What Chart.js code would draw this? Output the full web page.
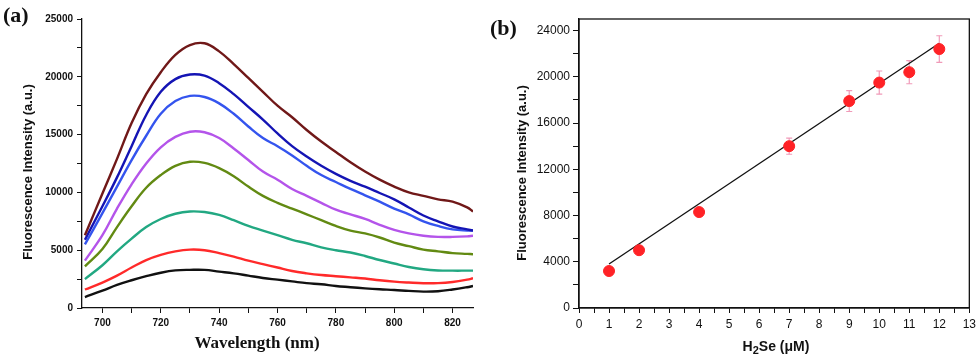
<!DOCTYPE html>
<html>
<head>
<meta charset="utf-8">
<script src="https://cdn.jsdelivr.net/npm/chart.js@4.4.0/dist/chart.umd.min.js"></script>
<style>
  body { margin: 0; background: #fff; width: 980px; height: 361px; position: relative; overflow: hidden; }
  .box { position: absolute; top: 0; width: 490px; height: 361px; }
  .lbl { position: absolute; white-space: nowrap; color: #111; }
  .panel { font: bold 22px "Liberation Serif", "Times New Roman", serif; }
  .ytitle { font: bold 13px "Liberation Sans", Arial, sans-serif; transform: translate(-50%, -50%) rotate(-90deg); }
  .xtitle { transform: translate(-50%, -50%); }
</style>
</head>
<body>
<div class="box" style="left:0"><canvas id="chartA"></canvas></div>
<div class="box" style="left:490px"><canvas id="chartB"></canvas></div>

<div class="lbl panel" style="left:3px; top:2px">(a)</div>
<div class="lbl panel" style="left:490px; top:15px">(b)</div>
<div class="lbl ytitle" style="left:27px; top:172px">Fluorescence Intensity (a.u.)</div>
<div class="lbl ytitle" style="left:521px; top:173px">Fluorescence Intensity (a.u.)</div>
<div class="lbl xtitle" style="left:257px; top:343px; font: bold 17px 'Liberation Serif', serif">Wavelength (nm)</div>
<div class="lbl xtitle" style="left:776px; top:347px; font: bold 14px 'Liberation Sans', Arial, sans-serif">H<sub style="font-size:11px">2</sub>Se (&mu;M)</div>

<script>
// (a) emission spectra
const wavelength = [694, 700, 705, 710, 715, 720, 725, 730, 735, 740, 745, 750, 755, 760, 765, 770, 775, 780, 785, 790, 795, 800, 805, 810, 815, 820, 825, 827];
const spec12 = [6300, 9900, 12900, 16000, 18500, 20400, 21900, 22750, 22900, 22200, 21100, 19900, 18700, 17500, 16500, 15400, 14400, 13500, 12600, 11800, 11100, 10500, 10000, 9700, 9400, 9200, 8700, 8350];
const spec11 = [5900, 8800, 11300, 14000, 16700, 18700, 19800, 20200, 20100, 19450, 18500, 17400, 16300, 15100, 14000, 13100, 12300, 11600, 11000, 10500, 9950, 9400, 8700, 8000, 7500, 7050, 6800, 6700];
const spec10 = [5500, 8200, 10500, 12800, 14900, 16800, 17900, 18350, 18250, 17700, 16800, 15700, 14700, 14000, 13200, 12300, 11500, 10900, 10300, 9750, 9200, 8600, 8100, 7500, 7100, 6800, 6700, 6700];
const spec9 = [4100, 6300, 8600, 10700, 12500, 13900, 14800, 15250, 15200, 14700, 13800, 12800, 11800, 11100, 10300, 9700, 9100, 8500, 8100, 7700, 7200, 6750, 6450, 6250, 6150, 6150, 6200, 6250];
const spec7 = [3600, 5100, 7000, 8800, 10400, 11500, 12300, 12650, 12550, 12100, 11400, 10500, 9700, 9100, 8600, 8100, 7600, 7100, 6700, 6450, 6100, 5650, 5350, 5050, 4900, 4750, 4680, 4650];
const spec4 = [2500, 3700, 4900, 6000, 7000, 7700, 8150, 8350, 8300, 8050, 7600, 7100, 6700, 6300, 5900, 5600, 5250, 5000, 4800, 4500, 4150, 3850, 3550, 3350, 3250, 3230, 3230, 3230];
const spec2 = [1600, 2200, 2800, 3500, 4150, 4600, 4900, 5050, 5000, 4750, 4450, 4100, 3800, 3500, 3200, 3000, 2850, 2750, 2650, 2550, 2400, 2280, 2200, 2140, 2150, 2250, 2450, 2570];
const spec1 = [950, 1500, 2000, 2400, 2750, 3050, 3250, 3300, 3300, 3150, 3000, 2800, 2600, 2450, 2300, 2150, 2050, 1900, 1800, 1700, 1620, 1560, 1480, 1420, 1450, 1600, 1800, 1900];
const xTicksA = [700, 710, 720, 730, 740, 750, 760, 770, 780, 790, 800, 810, 820];
const yTicksA = [0, 2500, 5000, 7500, 10000, 12500, 15000, 17500, 20000, 22500, 25000];

// (b) calibration
const h2se = [1, 2, 4, 7, 9, 10, 11, 12];
const intensity = [3200, 5000, 8300, 14000, 17900, 19500, 20400, 22400];
const errBar = [200, 250, 350, 700, 900, 1000, 1000, 1150];
const fitX = [1, 12];
const fitY = [3800, 22900];
const xTicksB = [0, 0.5, 1, 1.5, 2, 2.5, 3, 3.5, 4, 4.5, 5, 5.5, 6, 6.5, 7, 7.5, 8, 8.5, 9, 9.5, 10, 10.5, 11, 11.5, 12, 12.5, 13];
const yTicksB = [0, 2000, 4000, 6000, 8000, 10000, 12000, 14000, 16000, 18000, 20000, 22000, 24000];

const black = '#111';
const tickFontA = { family: 'Liberation Sans, Arial, sans-serif', size: 10, weight: 'bold' };
const tickFontB = { family: 'Liberation Sans, Arial, sans-serif', size: 12 };

function toXY(xs, ys) {
  return xs.map((x, i) => ({ x: x, y: ys[i] }));
}
function fixedTicks(list) {
  return s => { s.ticks = list.map(v => ({ value: v })); };
}

const spectra = [
  [spec12, '#701818'],
  [spec11, '#1414b4'],
  [spec10, '#3454ee'],
  [spec9, '#b454ea'],
  [spec7, '#628a12'],
  [spec4, '#22a882'],
  [spec2, '#ff2a2a'],
  [spec1, '#111111']
];

new Chart(document.getElementById('chartA'), {
  type: 'line',
  data: {
    datasets: spectra.map(s => ({
      data: toXY(wavelength, s[0]),
      borderColor: s[1],
      borderWidth: 2.4,
      pointRadius: 0,
      tension: 0.4
    }))
  },
  options: {
    responsive: true,
    maintainAspectRatio: false,
    animation: false,
    layout: { padding: { left: 0, top: 19, right: 17, bottom: 0 } },
    plugins: { legend: { display: false }, tooltip: { enabled: false } },
    scales: {
      x: {
        type: 'linear',
        min: 693,
        max: 827,
        afterBuildTicks: fixedTicks(xTicksA),
        afterFit: s => { s.height = 53; },
        border: { color: black, width: 1.3 },
        grid: { drawOnChartArea: false, tickLength: 5, tickColor: black, tickWidth: 1 },
        ticks: {
          padding: 4,
          color: black,
          font: tickFontA,
          autoSkip: false,
          maxRotation: 0,
          callback: v => (v % 20 === 0 ? v : '')
        }
      },
      y: {
        min: 0,
        max: 25000,
        afterBuildTicks: fixedTicks(yTicksA),
        afterFit: s => { s.width = 82; },
        border: { color: black, width: 1.3 },
        grid: { drawOnChartArea: false, tickLength: 5, tickColor: black, tickWidth: 1 },
        ticks: {
          padding: 4,
          color: black,
          font: tickFontA,
          autoSkip: false,
          callback: v => (v % 5000 === 0 ? v : '')
        }
      }
    }
  }
});

// error bars as short vertical segments with capped ends
const errData = [];
h2se.forEach((x, i) => {
  errData.push({ x: x, y: intensity[i] - errBar[i] });
  errData.push({ x: x, y: intensity[i] + errBar[i] });
  errData.push({ x: x, y: null });
});

const frameBox = {
  id: 'frameBox',
  afterDraw(chart) {
    const a = chart.chartArea;
    const ctx = chart.ctx;
    ctx.save();
    ctx.strokeStyle = black;
    ctx.lineWidth = 1.3;
    ctx.strokeRect(a.left, a.top, a.right - a.left, a.bottom - a.top);
    ctx.restore();
  }
};

new Chart(document.getElementById('chartB'), {
  type: 'scatter',
  data: {
    datasets: [
      {
        data: toXY(h2se, intensity),
        backgroundColor: '#ff2226',
        borderColor: '#ff2226',
        pointRadius: 5.5,
        pointHoverRadius: 5.5
      },
      {
        data: toXY(fitX, fitY),
        showLine: true,
        borderColor: black,
        borderWidth: 1.3,
        pointRadius: 0
      },
      {
        data: errData,
        showLine: true,
        spanGaps: false,
        borderColor: '#f09ab8',
        borderWidth: 1.2,
        pointStyle: 'line',
        pointRadius: 3,
        pointBorderColor: '#f09ab8',
        pointBorderWidth: 1.2
      }
    ]
  },
  options: {
    responsive: true,
    maintainAspectRatio: false,
    animation: false,
    layout: { padding: { left: 0, top: 19, right: 10, bottom: 0 } },
    plugins: { legend: { display: false }, tooltip: { enabled: false } },
    scales: {
      x: {
        type: 'linear',
        min: 0,
        max: 13,
        afterBuildTicks: fixedTicks(xTicksB),
        afterFit: s => { s.height = 53; },
        border: { color: black, width: 1.3 },
        grid: { drawOnChartArea: false, tickLength: 5, tickColor: black, tickWidth: 1 },
        ticks: {
          padding: 4,
          color: black,
          font: tickFontB,
          autoSkip: false,
          maxRotation: 0,
          callback: v => (Number.isInteger(v) ? v : '')
        }
      },
      y: {
        min: 0,
        max: 25000,
        afterBuildTicks: fixedTicks(yTicksB),
        afterFit: s => { s.width = 89; },
        border: { color: black, width: 1.3 },
        grid: { drawOnChartArea: false, tickLength: 6, tickColor: black, tickWidth: 1 },
        ticks: {
          padding: 3,
          color: black,
          font: tickFontB,
          autoSkip: false,
          callback: v => (v % 4000 === 0 ? v : '')
        }
      }
    }
  },
  plugins: [frameBox]
});
</script>
</body>
</html>
